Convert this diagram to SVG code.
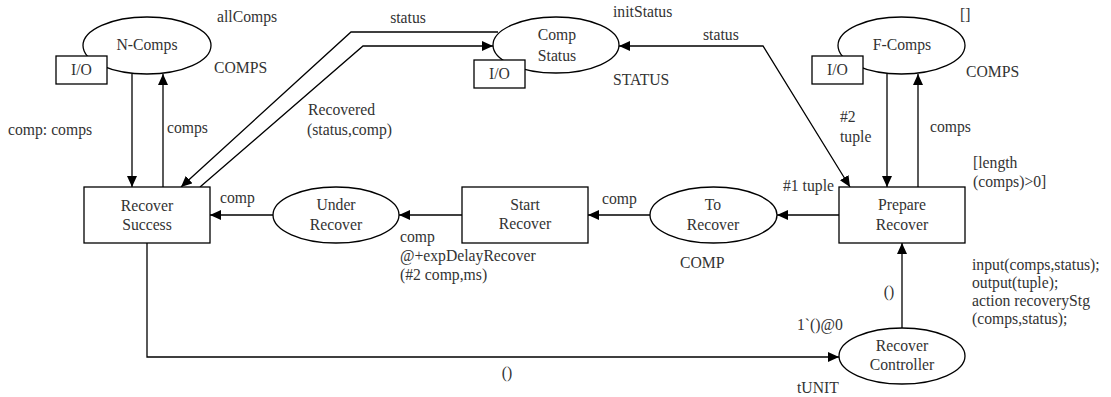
<svg xmlns="http://www.w3.org/2000/svg" width="1111" height="397" viewBox="0 0 1111 397">
<style>
text{font-family:"Liberation Serif","Times New Roman",serif;font-size:15.7px;fill:#333}
.c{text-anchor:middle}
.n{fill:#fff;stroke:#000;stroke-width:1.3}
.e{fill:none;stroke:#000;stroke-width:1.3}
</style>
<defs>
<marker id="a" markerUnits="userSpaceOnUse" markerWidth="12" markerHeight="10" refX="11" refY="5" orient="auto-start-reverse">
<path d="M0,0 L11,5 L0,10 z" fill="#000"/>
</marker>
</defs>
<rect width="1111" height="397" fill="#fff"/>
<g id="connectors">
<path class="e" d="M132,74 V187" marker-end="url(#a)"/>
<path class="e" d="M163,187 V74" marker-end="url(#a)"/>
<path class="e" d="M498,32 H351 L181,187" marker-end="url(#a)"/>
<path class="e" d="M200,187 L363,46 H493" marker-end="url(#a)"/>
<path class="e" d="M850,187 L763,46 H619" marker-start="url(#a)" marker-end="url(#a)"/>
<path class="e" d="M887,74 V187" marker-end="url(#a)"/>
<path class="e" d="M918,187 V74" marker-end="url(#a)"/>
<path class="e" d="M839,215 H777" marker-end="url(#a)"/>
<path class="e" d="M650,215 H588" marker-end="url(#a)"/>
<path class="e" d="M462,215 H399" marker-end="url(#a)"/>
<path class="e" d="M273,215 H210" marker-end="url(#a)"/>
<path class="e" d="M147,243 V357 H839" marker-end="url(#a)"/>
<path class="e" d="M902,328 V243" marker-end="url(#a)"/>
<text x="8" y="135">comp: comps</text>
<text x="167" y="133">comps</text>
<text x="408" y="23" class="c">status</text>
<text x="308" y="115">Recovered</text>
<text x="307" y="135">(status,comp)</text>
<text x="703" y="40">status</text>
<text x="840" y="122">#2</text>
<text x="840" y="142">tuple</text>
<text x="930" y="132">comps</text>
<text x="783" y="191">#1 tuple</text>
<text x="602" y="204">comp</text>
<text x="400" y="242">comp</text>
<text x="400" y="261">@+expDelayRecover</text>
<text x="400" y="280">(#2 comp,ms)</text>
<text x="220" y="203">comp</text>
<text x="507" y="378" class="c">()</text>
<text x="889" y="297" class="c">()</text>
<text x="797" y="330">1`()@0</text>
</g>
<g id="n-comps">
<ellipse class="n" cx="147" cy="45.5" rx="64" ry="28.5"/>
<text x="147" y="50" class="c">N-Comps</text>
<rect class="n" x="56" y="56" width="51" height="28"/>
<text x="81.5" y="75" class="c">I/O</text>
<text x="217" y="22">allComps</text>
<text x="214" y="73">COMPS</text>
</g>
<g id="comp-status">
<ellipse class="n" cx="556" cy="45" rx="63" ry="28"/>
<text x="557" y="40" class="c">Comp</text>
<text x="557" y="61" class="c">Status</text>
<rect class="n" x="474" y="60" width="51" height="28"/>
<text x="499.5" y="79" class="c">I/O</text>
<text x="613" y="17">initStatus</text>
<text x="613" y="85">STATUS</text>
</g>
<g id="f-comps">
<ellipse class="n" cx="901.5" cy="45.5" rx="63.5" ry="28.5"/>
<text x="902" y="50" class="c">F-Comps</text>
<rect class="n" x="812" y="56" width="51" height="28"/>
<text x="837.5" y="75" class="c">I/O</text>
<text x="960" y="20">[]</text>
<text x="966" y="77">COMPS</text>
</g>
<g id="recover-success">
<rect class="n" x="84" y="187" width="126" height="56"/>
<text x="147" y="211" class="c">Recover</text>
<text x="147" y="230" class="c">Success</text>
</g>
<g id="under-recover">
<ellipse class="n" cx="336" cy="215" rx="63" ry="28"/>
<text x="336" y="210" class="c">Under</text>
<text x="336" y="230" class="c">Recover</text>
</g>
<g id="start-recover">
<rect class="n" x="462" y="187" width="126" height="56"/>
<text x="525" y="210" class="c">Start</text>
<text x="525" y="229" class="c">Recover</text>
</g>
<g id="to-recover">
<ellipse class="n" cx="713.5" cy="215" rx="63.5" ry="28"/>
<text x="713" y="210" class="c">To</text>
<text x="713" y="230" class="c">Recover</text>
<text x="680" y="268">COMP</text>
</g>
<g id="prepare-recover">
<rect class="n" x="839" y="187" width="126" height="56"/>
<text x="902" y="210" class="c">Prepare</text>
<text x="902" y="230" class="c">Recover</text>
<text x="973" y="168">[length</text>
<text x="973" y="187">(comps)&gt;0]</text>
<text x="972" y="270">input(comps,status);</text>
<text x="972" y="288">output(tuple);</text>
<text x="972" y="306">action recoveryStg</text>
<text x="972" y="324">(comps,status);</text>
</g>
<g id="recover-controller">
<ellipse class="n" cx="902" cy="356" rx="63" ry="28"/>
<text x="902" y="351" class="c">Recover</text>
<text x="902" y="370" class="c">Controller</text>
<text x="797" y="393">tUNIT</text>
</g>
</svg>
